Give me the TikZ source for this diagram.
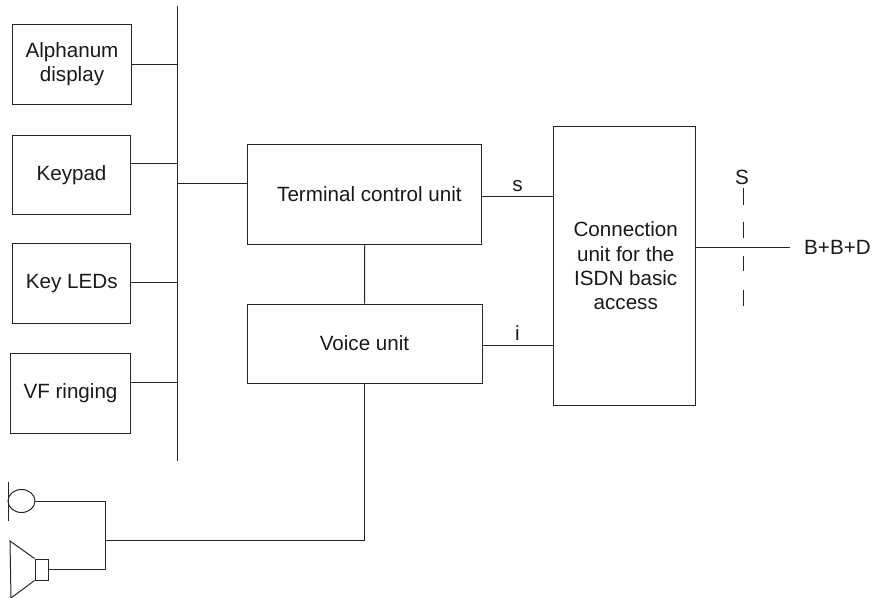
\documentclass[tikz,border=0pt]{standalone}
\usepackage{fontspec}
\setmainfont{Liberation Sans}
\usetikzlibrary{calc, shapes.geometric}
\tikzset{
  unitbox/.style={draw=black!85, line width=0.85pt, inner sep=0pt, align=center, font=\fontsize{17.6}{20.7}\selectfont, text=black!90},
  wire/.style={draw=black!85, line width=0.85pt},
  lbl/.style={font=\fontsize{17.6}{20.7}\selectfont, text=black!90, inner sep=0pt}
}
\begin{document}
\begin{tikzpicture}[x=0.03cm, y=-0.03cm]
\useasboundingbox (0,0) rectangle (873,598);
% peripheral boxes
\node[unitbox, minimum width=3.54cm, minimum height=2.37cm] (alpha) at (72,64.5) {Alphanum\\display};
\node[unitbox, minimum width=3.51cm, minimum height=2.37cm] (keypad) at (71.5,175) {Keypad};
\node[unitbox, minimum width=3.55cm, minimum height=2.37cm] (leds) at (71.75,283.5) {Key LEDs};
\node[unitbox, minimum width=3.57cm, minimum height=2.4cm] (ringing) at (70.5,393) {VF ringing};
% bus
\coordinate (bustop) at (177.5,6);
\coordinate (busbot) at (177.5,461);
\draw[wire] (bustop) -- (busbot);
\draw[wire] (alpha.east) -- (alpha.east -| bustop);
\draw[wire] ($(keypad.east)+(0,-11)$) coordinate (keyout) -- (keyout -| bustop);
\draw[wire] ($(leds.east)+(0,-1)$) coordinate (ledout) -- (ledout -| bustop);
\draw[wire] ($(ringing.east)+(0,-11)$) coordinate (ringout) -- (ringout -| bustop);
% centre units
\node[unitbox, minimum width=7.03cm, minimum height=2.97cm] (tcu) at (364.75,194.5) {\hspace*{8pt}Terminal control unit};
\node[unitbox, minimum width=7.05cm, minimum height=2.37cm] (voice) at (364.5,343.5) {Voice unit};
\node[unitbox, minimum width=4.26cm, minimum height=8.34cm] (conn) at (624,266) {\hspace*{3pt}Connection\\\hspace*{3pt}unit for the\\\hspace*{3pt}ISDN basic\\\hspace*{3pt}access};
\draw[wire] ($(tcu.west)+(0,-11.5)$) coordinate (tcuin) -- (tcuin -| bustop);
\draw[wire] (tcu.south) -- (voice.north);
\draw[wire] ($(tcu.east)+(0,1.5)$) coordinate (tcuout) -- (tcuout -| conn.west) node[lbl, pos=0.5, above=3pt] (slbl) {s};
\draw[wire] ($(voice.east)+(0,1.5)$) coordinate (voiceout) -- (voiceout -| conn.west) node[lbl, pos=0.5, above=3.5pt] (ilbl) {i};
% S reference point
\node[lbl] (sref) at (742,177) {S};
\node[lbl, anchor=west] (bbd) at (804,247) {B+B+D};
\coordinate (lineend) at (790,247);
\draw[wire] (conn.east |- lineend) -- (lineend);
\draw[wire, line width=0.6pt] (743,188) -- (743,205);
\draw[wire, line width=0.6pt] (743,222) -- (743,238);
\draw[wire, line width=0.6pt] (743,256) -- (743,271);
\draw[wire, line width=0.6pt] (743,290) -- (743,306);
% microphone and speaker
\draw[wire] (8,482) -- (8,521);
\node[draw=black!85, line width=0.85pt, ellipse, minimum width=0.81cm, minimum height=0.69cm, inner sep=0pt] (mic) at (21.5,501) {};
\node[draw=black!85, line width=0.85pt, minimum width=0.39cm, minimum height=0.63cm, inner sep=0pt] (spk) at (41.5,569.5) {};
\draw[wire] (spk.north west) -- (10,541) -- (11,598) -- (spk.south west);
\coordinate (join) at (105,540);
\draw[wire] (mic.east) -| (join);
\draw[wire] (spk.east) -| (join);
\draw[wire] (voice.south) |- (join);
\end{tikzpicture}
\end{document}
